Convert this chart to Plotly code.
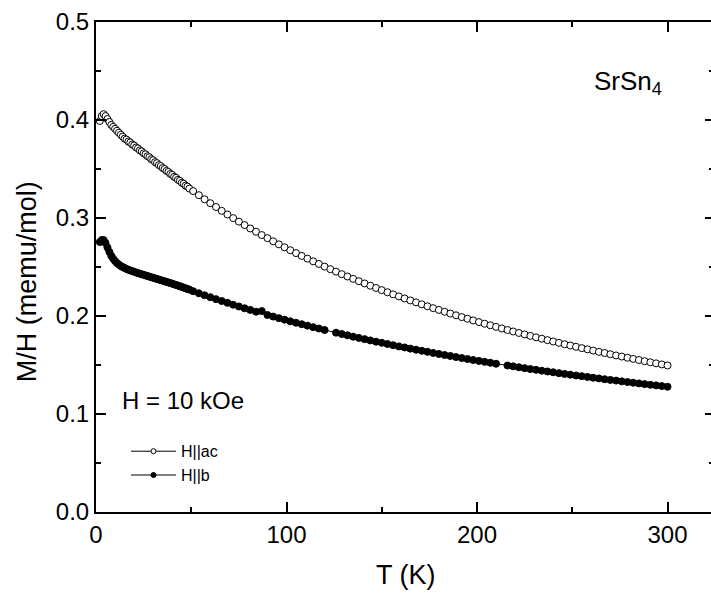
import plotly.graph_objects as go

# ---------------- data ----------------
T_ac = [2, 3, 4, 5, 6, 7, 8, 9, 10, 11, 12, 13, 14, 15, 16, 17, 18, 19, 20, 21, 22, 23, 24, 25,
        26, 27, 28, 29, 30, 31, 32, 33, 34, 35, 36, 37, 38, 39, 40, 41, 42, 43, 44, 45, 46, 47, 48, 49,
        51, 54, 57, 60, 63, 66, 69, 72, 75, 78, 81, 84, 87, 90, 93, 96, 99, 102, 105, 108, 111, 114,
        117, 120, 123, 126, 129, 132, 135, 138, 141, 144, 147, 150, 153, 156, 159, 162, 165, 168, 171,
        174, 177, 180, 183, 186, 189, 192, 195, 198, 201, 204, 207, 210, 213, 216, 219, 222, 225, 228,
        231, 234, 237, 240, 243, 246, 249, 252, 255, 258, 261, 264, 267, 270, 273, 276, 279, 282, 285,
        288, 291, 294, 297, 300]
M_ac = [0.399, 0.404, 0.406, 0.404, 0.401, 0.398, 0.395, 0.393, 0.391, 0.389, 0.387, 0.385, 0.383,
        0.381, 0.380, 0.378, 0.377, 0.375, 0.374, 0.372, 0.371, 0.369, 0.368, 0.366, 0.365, 0.363,
        0.362, 0.360, 0.359, 0.357, 0.356, 0.354, 0.353, 0.351, 0.350, 0.348, 0.347, 0.345, 0.344,
        0.342, 0.341, 0.339, 0.338, 0.336, 0.335, 0.333, 0.332, 0.330,
        0.3275, 0.3233, 0.3191, 0.3151, 0.3112, 0.3073, 0.3036, 0.2999, 0.2963, 0.2928, 0.2893,
        0.2860, 0.2826, 0.2794, 0.2762, 0.2731, 0.2701, 0.2671, 0.2642, 0.2613, 0.2585, 0.2558,
        0.2531, 0.2504, 0.2478, 0.2453, 0.2427, 0.2403, 0.2379, 0.2355, 0.2332, 0.2309, 0.2286,
        0.2264, 0.2242, 0.2221, 0.2200, 0.2179, 0.2159, 0.2139, 0.2119, 0.2099, 0.2080, 0.2062,
        0.2043, 0.2025, 0.2007, 0.1989, 0.1972, 0.1955, 0.1938, 0.1921, 0.1905, 0.1889, 0.1873,
        0.1857, 0.1842, 0.1827, 0.1812, 0.1797, 0.1782, 0.1768, 0.1754, 0.1740, 0.1726, 0.1712,
        0.1699, 0.1686, 0.1672, 0.1660, 0.1647, 0.1634, 0.1622, 0.1610, 0.1597, 0.1586, 0.1574,
        0.1562, 0.1551, 0.1539, 0.1528, 0.1517, 0.1506, 0.1495]

T_b = [2, 3, 4, 5, 6, 7, 8, 9, 10, 11, 12, 13, 14, 15, 16, 17, 18, 19, 20, 21, 22, 23, 24, 25,
       26, 27, 28, 29, 30, 31, 32, 33, 34, 35, 36, 37, 38, 39, 40, 41, 42, 43, 44, 45, 46, 47, 48, 49,
       51, 54, 57, 60, 63, 66, 69, 72, 75, 78, 81, 84, 87, 90, 93, 96, 99, 102, 105, 108, 111, 114,
       117, 120, 126, 129, 132, 135, 138, 141, 144, 147, 150, 153, 156, 159, 162, 165, 168, 171,
       174, 177, 180, 183, 186, 189, 192, 195, 198, 201, 204, 207, 210, 216, 219, 222, 225, 228,
       231, 234, 237, 240, 243, 246, 249, 252, 255, 258, 261, 264, 267, 270, 273, 276, 279, 282, 285,
       288, 291, 294, 297, 300]
M_b = [0.2755, 0.2775, 0.2775, 0.2745, 0.2700, 0.2655, 0.2615, 0.2585, 0.2560, 0.2540, 0.2525,
       0.2510, 0.2500, 0.2490, 0.2480, 0.2472, 0.2465, 0.2458, 0.2451, 0.2445, 0.2438, 0.2432,
       0.2426, 0.2420, 0.2414, 0.2408, 0.2402, 0.2396, 0.2390, 0.2384, 0.2378, 0.2372, 0.2366,
       0.2360, 0.2354, 0.2348, 0.2342, 0.2336, 0.2330, 0.2323, 0.2317, 0.2310, 0.2304, 0.2297,
       0.2290, 0.2283, 0.2276, 0.2269,
       0.2253, 0.2232, 0.2212, 0.2192, 0.2172, 0.2153, 0.2134, 0.2115, 0.2097, 0.2079, 0.2062,
       0.2044, 0.2050, 0.2010, 0.1994, 0.1978, 0.1962, 0.1946, 0.1931, 0.1916, 0.1901, 0.1886,
       0.1872, 0.1857, 0.1830, 0.1816, 0.1803, 0.1789, 0.1776, 0.1764, 0.1751, 0.1738, 0.1726,
       0.1714, 0.1702, 0.1690, 0.1679, 0.1667, 0.1656, 0.1645, 0.1634, 0.1623, 0.1613, 0.1602,
       0.1592, 0.1581, 0.1571, 0.1561, 0.1551, 0.1542, 0.1532, 0.1523, 0.1513, 0.1495, 0.1486,
       0.1477, 0.1468, 0.1459, 0.1451, 0.1442, 0.1434, 0.1426, 0.1417, 0.1409, 0.1401, 0.1393,
       0.1386, 0.1378, 0.1370, 0.1363, 0.1355, 0.1348, 0.1341, 0.1333, 0.1326, 0.1319, 0.1312,
       0.1305, 0.1298, 0.1292, 0.1285, 0.1278]

series_names = ["H||ac", "H||b"]
x_ticks = [0, 100, 200, 300]
y_ticks = [0.0, 0.1, 0.2, 0.3, 0.4, 0.5]

FONT = "Liberation Sans, Arial, sans-serif"

# ---------------- figure ----------------
fig = go.Figure()

fig.add_trace(go.Scatter(
    x=T_ac, y=M_ac, mode="lines+markers", showlegend=False,
    line=dict(color="black", width=1),
    marker=dict(symbol="circle", size=7, color="white", line=dict(color="black", width=1)),
))
fig.add_trace(go.Scatter(
    x=T_b, y=M_b, mode="lines+markers", showlegend=False,
    line=dict(color="black", width=1),
    marker=dict(symbol="circle", size=7, color="black", line=dict(color="black", width=1)),
))
# legend entries (smaller symbols, as in the original)
fig.add_trace(go.Scatter(
    x=[None], y=[None], mode="lines+markers", name=series_names[0],
    line=dict(color="black", width=1),
    marker=dict(symbol="circle", size=5, color="white", line=dict(color="black", width=1)),
))
fig.add_trace(go.Scatter(
    x=[None], y=[None], mode="lines+markers", name=series_names[1],
    line=dict(color="black", width=1),
    marker=dict(symbol="circle", size=5, color="black", line=dict(color="black", width=1)),
))
# right-hand tick marks
fig.add_trace(go.Scatter(x=[None], y=[None], yaxis="y2", showlegend=False, hoverinfo="skip"))

W, H = 711, 598
L, R, TOP, B = 96, 0, 22, 86
xmax = (W - L - R) / 1.905

fig.update_layout(
    width=W, height=H,
    margin=dict(l=L, r=R, t=TOP, b=B),
    paper_bgcolor="white", plot_bgcolor="white",
    font=dict(family=FONT, color="black"),
    showlegend=True,
    legend=dict(
        x=(126 - L) / (W - L), y=(511.7 - 434) / (598 - TOP - B),
        xanchor="left", yanchor="top",
        bgcolor="rgba(0,0,0,0)", borderwidth=0,
        font=dict(family=FONT, size=16, color="black"),
        itemwidth=45, tracegroupgap=0,
    ),
    xaxis=dict(
        range=[0, xmax], tickvals=x_ticks, ticktext=[str(v) for v in x_ticks],
        ticks="inside", ticklen=10, tickwidth=2, tickcolor="black",
        showline=True, linewidth=2, linecolor="black", mirror="ticks",
        showgrid=False, zeroline=False,
        tickfont=dict(family=FONT, size=24, color="black"),
        minor=dict(dtick=50, tick0=0, ticks="inside", ticklen=5, tickwidth=1.5, tickcolor="black"),
    ),
    yaxis=dict(
        range=[0, 0.5], tickvals=y_ticks, ticktext=[f"{v:.1f}" for v in y_ticks],
        ticks="inside", ticklen=10, tickwidth=2, tickcolor="black",
        showline=True, linewidth=2, linecolor="black", mirror=False,
        showgrid=False, zeroline=False,
        tickfont=dict(family=FONT, size=24, color="black"),
        minor=dict(dtick=0.05, tick0=0, ticks="inside", ticklen=5, tickwidth=1.5, tickcolor="black"),
    ),
    yaxis2=dict(
        range=[0, 0.5], overlaying="y", side="right", tickvals=y_ticks,
        ticks="inside", ticklen=6, tickwidth=2, tickcolor="black",
        showticklabels=False, showline=False, showgrid=False, zeroline=False,
        minor=dict(dtick=0.05, tick0=0, ticks="inside", ticklen=2, tickwidth=1.5, tickcolor="black"),
    ),
    annotations=[
        dict(text="T (K)", xref="paper", yref="paper", x=(406 - L) / (W - L), y=(511.7 - 575) / 490,
             xanchor="center", yanchor="middle", showarrow=False,
             font=dict(family=FONT, size=27, color="black")),
        dict(text="M/H (memu/mol)", xref="paper", yref="paper", x=(27 - L) / (W - L), y=(511.7 - 282) / 490,
             xanchor="center", yanchor="middle", textangle=-90, showarrow=False,
             font=dict(family=FONT, size=27, color="black")),
        dict(text="SrSn<sub>4</sub>", xref="paper", yref="paper", x=(628 - L) / (W - L), y=(511.7 - 82) / 490,
             xanchor="center", yanchor="middle", showarrow=False,
             font=dict(family=FONT, size=26, color="black")),
        dict(text="H = 10 kOe", xref="paper", yref="paper", x=(120 - L) / (W - L), y=(511.7 - 400) / 490,
             xanchor="left", yanchor="middle", showarrow=False,
             font=dict(family=FONT, size=24, color="black")),
    ],
)

fig.write_html("out.html")
